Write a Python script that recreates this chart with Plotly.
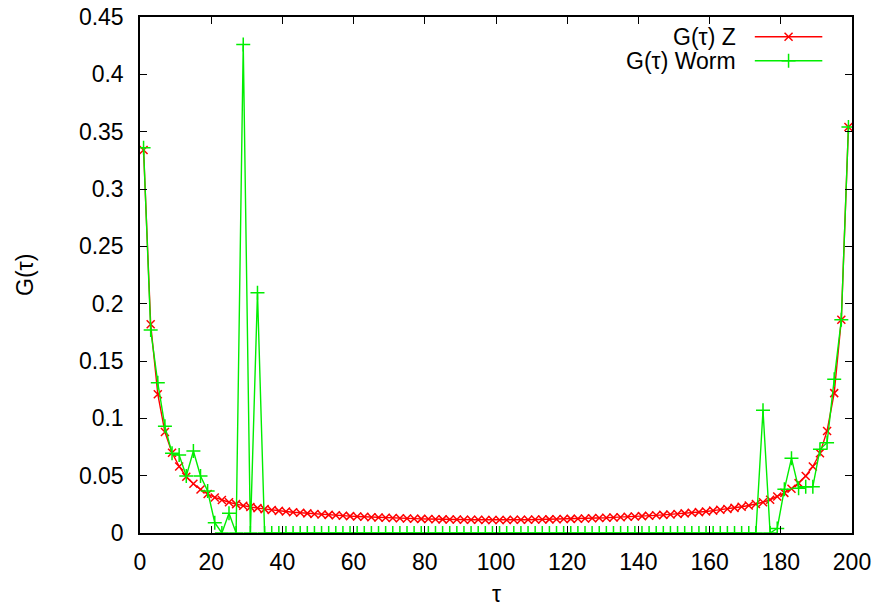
import plotly.graph_objects as go

tau = list(range(1, 200, 2))

g_z = [
    0.334, 0.182, 0.121, 0.088, 0.070, 0.058, 0.049, 0.043, 0.038, 0.034,
    0.031, 0.0288, 0.0268, 0.0252, 0.0238, 0.0227, 0.0217, 0.0208, 0.0200, 0.0193,
    0.0187, 0.0181, 0.0176, 0.0171, 0.0166, 0.0162, 0.0158, 0.0154, 0.0150, 0.0147,
    0.0144, 0.0141, 0.0138, 0.0135, 0.0133, 0.0131, 0.0129, 0.0127, 0.0125, 0.0123,
    0.0122, 0.0120, 0.0119, 0.0118, 0.0117, 0.0116, 0.0115, 0.0115, 0.0114, 0.0114,
    0.0114, 0.0114, 0.0115, 0.0115, 0.0116, 0.0117, 0.0118, 0.0119, 0.0120, 0.0122,
    0.0123, 0.0125, 0.0127, 0.0129, 0.0131, 0.0133, 0.0136, 0.0138, 0.0141, 0.0144,
    0.0147, 0.0150, 0.0154, 0.0158, 0.0162, 0.0166, 0.0171, 0.0176, 0.0182, 0.0188,
    0.0195, 0.0202, 0.0210, 0.0219, 0.0229, 0.0240, 0.0253, 0.0268, 0.0290, 0.0318,
    0.0350, 0.0386, 0.0435, 0.0497, 0.0580, 0.0695, 0.0890, 0.1220, 0.1860, 0.3540,
]

g_worm = [
    0.336, 0.177, 0.131, 0.093, 0.0695, 0.068, 0.0497, 0.0715, 0.0497, 0.0366,
    0.009, 0.0, 0.0172, 0.0, 0.426, 0.0, 0.2095, 0.0, 0.0, 0.0,
    0.0, 0.0, 0.0, 0.0, 0.0, 0.0, 0.0, 0.0, 0.0, 0.0,
    0.0, 0.0, 0.0, 0.0, 0.0, 0.0, 0.0, 0.0, 0.0, 0.0,
    0.0, 0.0, 0.0, 0.0, 0.0, 0.0, 0.0, 0.0, 0.0, 0.0,
    0.0, 0.0, 0.0, 0.0, 0.0, 0.0, 0.0, 0.0, 0.0, 0.0,
    0.0, 0.0, 0.0, 0.0, 0.0, 0.0, 0.0, 0.0, 0.0, 0.0,
    0.0, 0.0, 0.0, 0.0, 0.0, 0.0, 0.0, 0.0, 0.0, 0.0,
    0.0, 0.0, 0.0, 0.0, 0.0, 0.0, 0.0, 0.107, 0.0, 0.004,
    0.0381, 0.0651, 0.039, 0.0404, 0.0404, 0.073, 0.0788, 0.134, 0.186, 0.354,
]

x_ticks = [0, 20, 40, 60, 80, 100, 120, 140, 160, 180, 200]
y_ticks = [0, 0.05, 0.1, 0.15, 0.2, 0.25, 0.3, 0.35, 0.4, 0.45]
y_tick_text = ["0", "0.05", "0.1", "0.15", "0.2", "0.25", "0.3", "0.35", "0.4", "0.45"]

series_names = ["G(τ) Z", "G(τ) Worm"]
RED = "#ff0000"
GREEN = "#00ee00"
FONT = "Liberation Sans, Arial, sans-serif"
FS = 23

fig = go.Figure()
fig.add_trace(go.Scatter(
    x=tau, y=g_z, mode="lines+markers", name=series_names[0],
    line=dict(color=RED, width=1.4),
    marker=dict(symbol="x-thin", size=8, line=dict(color=RED, width=1.5)),
    showlegend=False,
))
fig.add_trace(go.Scatter(
    x=tau, y=g_worm, mode="lines+markers", name=series_names[1],
    line=dict(color=GREEN, width=1.4),
    marker=dict(symbol="cross-thin", size=10, line=dict(color=GREEN, width=1.5)),
    showlegend=False,
))

# custom gnuplot-style legend (text left, sample right) on an overlay axis
leg_x = [0.8635, 0.9583]
leg_y = [0.9618, 0.9152]
for name, col, sym, sz, ly in [(series_names[0], RED, "x-thin", 8, leg_y[0]),
                               (series_names[1], GREEN, "cross-thin", 10, leg_y[1])]:
    fig.add_trace(go.Scatter(
        x=leg_x, y=[ly, ly], xaxis="x2", yaxis="y2", mode="lines",
        line=dict(color=col, width=1.4), showlegend=False, hoverinfo="skip"))
    fig.add_trace(go.Scatter(
        x=[sum(leg_x) / 2], y=[ly], xaxis="x2", yaxis="y2", mode="markers",
        marker=dict(symbol=sym, size=sz, line=dict(color=col, width=1.5)),
        showlegend=False, hoverinfo="skip"))
    fig.add_annotation(x=0.8402, y=ly, xref="paper", yref="paper", text=name,
                       showarrow=False, xanchor="right", yanchor="middle",
                       font=dict(family=FONT, size=FS, color="#000000"))

axis_common = dict(
    showgrid=False, zeroline=False, showline=True, linecolor="#000000",
    linewidth=1.5, mirror="ticks", ticks="inside", ticklen=7, tickwidth=1,
    tickcolor="#000000", tickfont=dict(family=FONT, size=FS, color="#000000"),
    automargin=False, ticklabeloverflow="allow",
)

fig.update_layout(
    width=880, height=610,
    margin=dict(l=140, r=28, t=17, b=77),
    paper_bgcolor="white", plot_bgcolor="white",
    xaxis=dict(range=[0, 200], tickvals=x_ticks, ticklabelstandoff=8, **axis_common),
    yaxis=dict(range=[0, 0.45], tickvals=y_ticks, ticktext=y_tick_text,
               ticklabelstandoff=10, **axis_common),
    xaxis2=dict(range=[0, 1], overlaying="x", visible=False),
    yaxis2=dict(range=[0, 1], overlaying="y", visible=False),
    showlegend=False,
)

fig.add_annotation(x=0.5, y=0, xref="paper", yref="paper", text="τ",
                   showarrow=False, xanchor="center", yanchor="middle", yshift=-61,
                   font=dict(family=FONT, size=FS, color="#000000"))
fig.add_annotation(x=0, y=0.5, xref="paper", yref="paper", text="G(τ)",
                   showarrow=False, xanchor="center", yanchor="middle", xshift=-115,
                   textangle=-90, font=dict(family=FONT, size=FS, color="#000000"))

fig.write_html(
    "out.html",
    config={"displayModeBar": False},
    post_script="document.body.style.margin='0';document.body.style.overflow='hidden';",
)
